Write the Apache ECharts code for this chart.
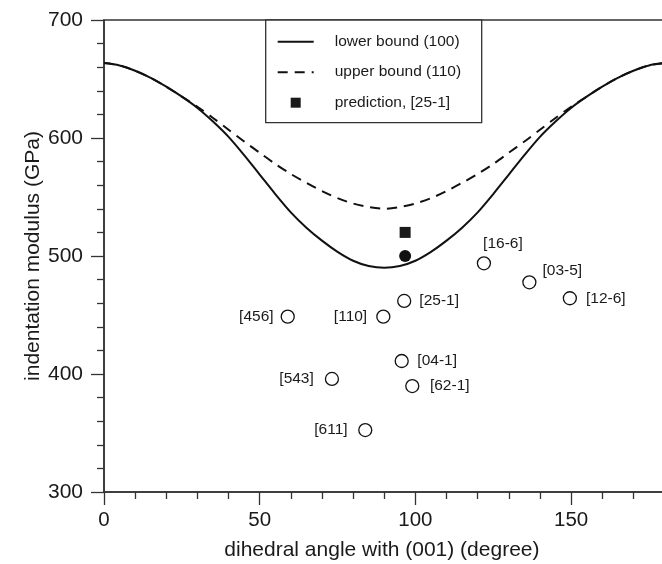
<!DOCTYPE html>
<html>
<head>
<meta charset="utf-8">
<script src="https://cdn.jsdelivr.net/npm/echarts@6/dist/echarts.min.js"></script>
<style>html,body{margin:0;padding:0;background:#fff;}#c{width:662px;height:564px;}</style>
</head>
<body>
<div id="c"></div>
<script>
// ---- data ----
var angles = [0,5,10,15,20,25,30,35,40,45,50,55,60,65,70,75,80,85,90,95,100,105,110,115,120,125,130,135,140,145,150,155,160,165,170,175,180];
var lowerBound = [663.5,661.5,657,651,643.5,635,625.5,614,601,585.5,569,552.5,537,524,513,503.5,496,491.5,490,491.5,496,503.5,513,524,537,552.5,569,585.5,601,614,625.5,635,643.5,651,657,661.5,663.5];
var upperBound = [663.5,661.5,657,651,643.5,635,626.5,617,607,597,587.5,578,569.5,562,555,549,544.5,541.5,540,541.5,544.5,549,555,562,569.5,578,587.5,597,607,617,626.5,635,643.5,651,657,661.5,663.5];
var predictionX = [96.7];
var predictionY = [520];
var filledX = [96.7];
var filledY = [500];
var pointNames = ['[456]','[110]','[25-1]','[16-6]','[03-5]','[12-6]','[04-1]','[62-1]','[543]','[611]'];
var pointX = [59.0, 89.7, 96.4, 122.0, 136.6, 149.6, 95.6, 99.0, 73.2, 83.9];
var pointY = [448.6, 448.6, 461.9, 493.8, 477.7, 464.2, 411.0, 389.8, 395.8, 352.5];
var xTicks = [0,50,100,150];
var yTicks = [300,400,500,600,700];
var legendNames = ['lower bound (100)','upper bound (110)','prediction, [25-1]'];

// label placement per point (style only)
var labelPlace = {
  '[456]': {position:'left', distance:7},
  '[110]': {position:'left', distance:9},
  '[25-1]': {position:'right', distance:8},
  '[16-6]': {position:'top', distance:4, offset:[19,0]},
  '[03-5]': {position:'right', distance:6, offset:[0,-12]},
  '[12-6]': {position:'right', distance:9},
  '[04-1]': {position:'right', distance:8.5},
  '[62-1]': {position:'right', distance:10.5},
  '[543]': {position:'left', distance:11},
  '[611]': {position:'left', distance:10.5}
};

var FONT = 'Liberation Sans, Arial, sans-serif';
var INK = '#1a1a1a';

function zip(xs, ys){ return xs.map(function(x,i){ return [x, ys[i]]; }); }

var openPts = pointNames.map(function(n,i){
  var lp = labelPlace[n];
  return {
    name: n,
    value: [pointX[i], pointY[i]],
    label: {show:true, formatter:n, position:lp.position, distance:lp.distance, offset:lp.offset || [0,0]}
  };
});

var chart = echarts.init(document.getElementById('c'), null, {renderer:'canvas'});
chart.setOption({
  animation: false,
  backgroundColor: '#fff',
  textStyle: {fontFamily: FONT, color: INK},
  grid: {left:104, top:20, width:622.8, height:472, outerBoundsMode:'none', containLabel:false,
    show:true, borderColor:'#333', borderWidth:1.5, backgroundColor:'transparent'},
  xAxis: {
    type:'value', min:0, max:200, interval:50,
    name:'dihedral angle with (001) (degree)', nameLocation:'middle', nameGap:48, nameMoveOverlap:false,
    nameTextStyle:{fontSize:21, color:INK, fontFamily:FONT, padding:[0,67,0,0]},
    axisLine:{show:true, onZero:false, lineStyle:{color:'#333', width:1.5}},
    axisTick:{show:true, inside:false, length:13, lineStyle:{color:'#333', width:1.3}},
    minorTick:{show:true, splitNumber:5, length:7, lineStyle:{color:'#333', width:1.3}},
    axisLabel:{fontSize:20.5, color:INK, margin:18, fontFamily:FONT,
      formatter:function(v){ return xTicks.indexOf(v) >= 0 ? String(v) : ''; }},
    splitLine:{show:false}
  },
  yAxis: {
    type:'value', min:300, max:700, interval:100,
    name:'indentation modulus (GPa)', nameLocation:'middle', nameGap:60, nameMoveOverlap:false,
    nameTextStyle:{fontSize:21, color:INK, fontFamily:FONT},
    axisLine:{show:true, onZero:false, lineStyle:{color:'#333', width:1.5}},
    axisTick:{show:true, inside:false, length:13, lineStyle:{color:'#333', width:1.3}},
    minorTick:{show:true, splitNumber:5, length:7, lineStyle:{color:'#333', width:1.3}},
    axisLabel:{fontSize:21, color:INK, margin:21, fontFamily:FONT,
      formatter:function(v){ return yTicks.indexOf(v) >= 0 ? String(v) : ''; }},
    splitLine:{show:false}
  },
  graphic: [{
    type:'rect', z:50, silent:true,
    shape:{x:265.7, y:20, width:216, height:102.7},
    style:{fill:'#fff', stroke:'#333', lineWidth:1.3}
  }],
  legend: {
    orient:'vertical', left:276.7, top:31.7, padding:0,
    itemWidth:36, itemHeight:10, itemGap:10.5, z:60,
    textStyle:{fontSize:15.5, color:INK, fontFamily:FONT, lineHeight:20, padding:[0,0,0,16]},
    data:[
      {name:legendNames[0], itemStyle:{opacity:0}},
      {name:legendNames[1], itemStyle:{opacity:0}},
      {name:legendNames[2], icon:'path://M0 0H10V10H0Z'}
    ]
  },
  series: [
    {
      name:legendNames[0], type:'line', data:zip(angles, lowerBound), smooth:0.3,
      symbol:'none', lineStyle:{color:'#111', width:2, type:'solid'}, itemStyle:{color:'#111'}, z:3
    },
    {
      name:legendNames[1], type:'line', data:zip(angles, upperBound), smooth:0.3,
      symbol:'none', lineStyle:{color:'#111', width:2, type:[10,7]}, itemStyle:{color:'#111'}, z:3
    },
    {
      name:legendNames[2], type:'scatter', data:zip(predictionX, predictionY),
      symbol:'rect', symbolSize:11, itemStyle:{color:'#1a1a1a', opacity:1}, z:4
    },
    {
      name:'filled', type:'scatter', data:zip(filledX, filledY),
      symbol:'circle', symbolSize:12, itemStyle:{color:'#111', opacity:1}, z:4
    },
    {
      name:'measured', type:'scatter', data:openPts,
      symbol:'circle', symbolSize:13,
      itemStyle:{color:'#fff', borderColor:'#111', borderWidth:1.3, opacity:1},
      label:{fontSize:15.5, color:INK, fontFamily:FONT},
      z:4
    }
  ]
});
</script>
</body>
</html>
